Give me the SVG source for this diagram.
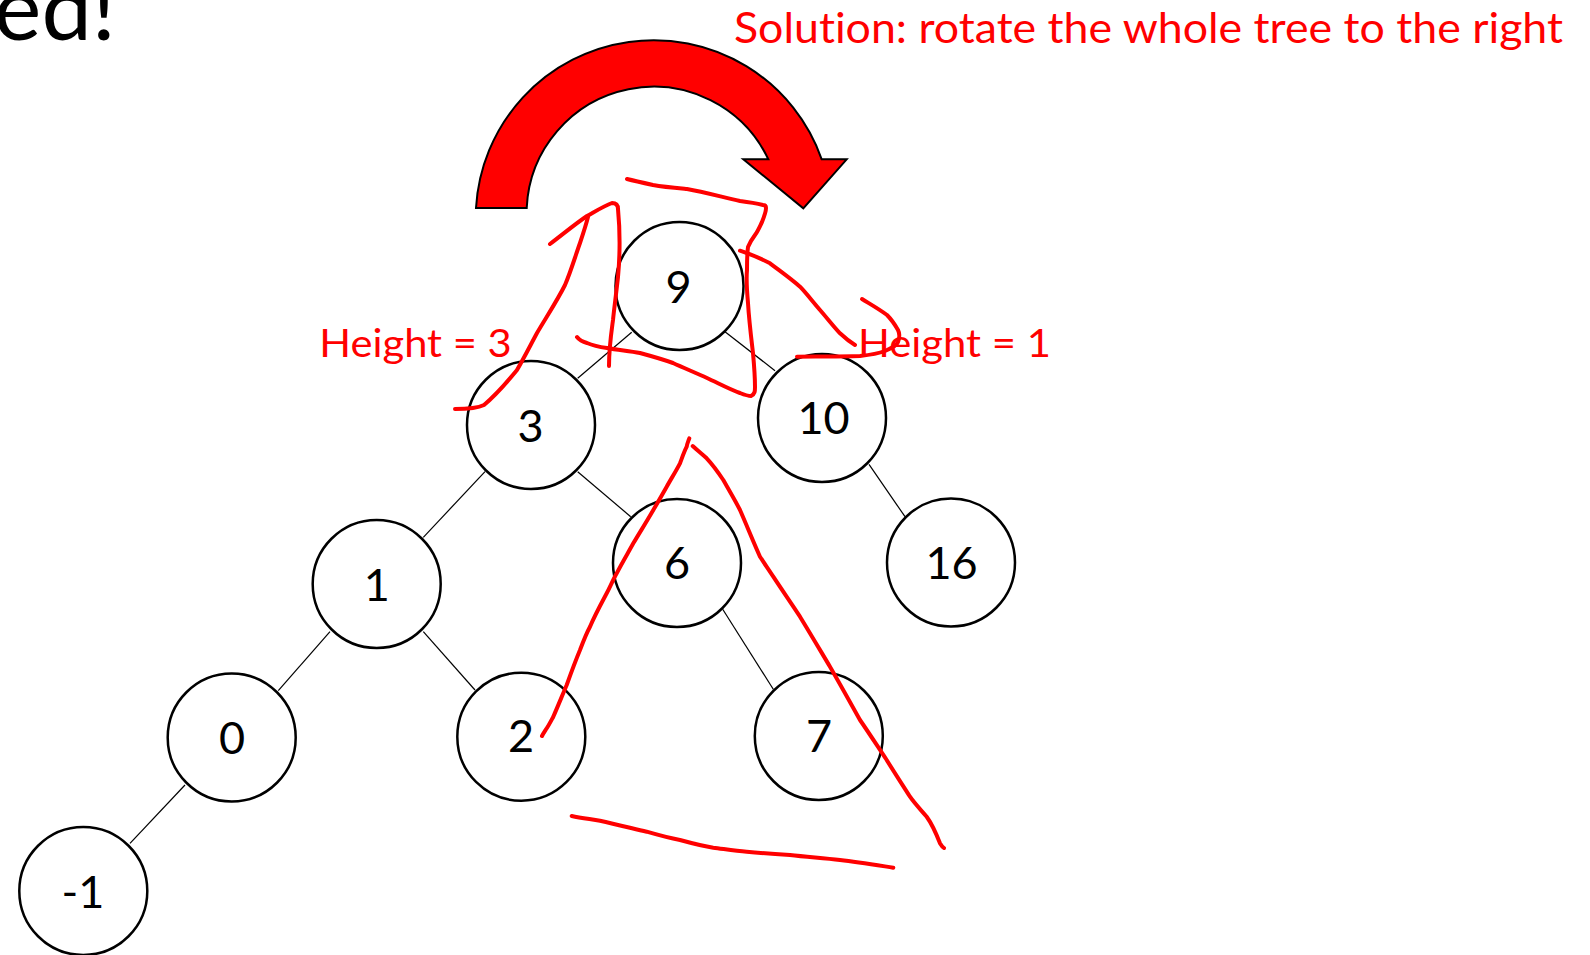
<svg xmlns="http://www.w3.org/2000/svg" width="1590" height="955" viewBox="0 0 1590 955">
<style>
  text { font-variant-ligatures: none; }
  .node circle { fill: #ffffff; stroke: #000000; stroke-width: 2.5; }
  .node text { font-family: Lato, "Open Sans", "Liberation Sans", sans-serif; font-size: 45px; fill: #000000; text-anchor: middle; }
  .edge { stroke: #000000; stroke-width: 1.2; fill: none; }
  .ink { stroke: #ff0000; stroke-width: 4; fill: none; stroke-linecap: round; stroke-linejoin: round; }
  .red { font-family: Lato, "Open Sans", "Liberation Sans", sans-serif; fill: #ff0000; }
</style>
<rect width="1590" height="955" fill="#ffffff"/>

<text x="116" y="40" text-anchor="end" font-family="Lato, 'Open Sans', sans-serif" font-size="90" fill="#000000">ed!</text>

<text class="red" x="734" y="43.3" font-size="42" textLength="829" lengthAdjust="spacingAndGlyphs">Solution: rotate the whole tree to the right</text>

<g id="rotate-arrow">
  <path d="M 476,208 A 178 178 0 0 1 821.7,159.3 L 846.7,159.3 L 803.3,208.3 L 743.3,159.3 L 768.3,159.3 A 127 127 0 0 0 526.7,208 Z" fill="#ff0000" stroke="#000000" stroke-width="2"/>
</g>

<g id="connectors">
  <line class="edge" x1="631.7" y1="332.3" x2="577.7" y2="378.3"/>
  <line class="edge" x1="725" y1="331.7" x2="775" y2="370.7"/>
  <line class="edge" x1="485" y1="471.7" x2="423.3" y2="537.3"/>
  <line class="edge" x1="577.7" y1="471.7" x2="630.7" y2="516.7"/>
  <line class="edge" x1="869" y1="464.3" x2="905" y2="516.7"/>
  <line class="edge" x1="330" y1="631.7" x2="278.3" y2="690.7"/>
  <line class="edge" x1="423.3" y1="631.7" x2="475" y2="690"/>
  <line class="edge" x1="722.7" y1="609.3" x2="773.3" y2="689.3"/>
  <line class="edge" x1="185" y1="785" x2="130" y2="843.3"/>
</g>

<g id="node-9" class="node"><circle cx="679.5" cy="286" r="64"/><text x="678.5" y="302.5">9</text></g>
<g id="node-3" class="node"><circle cx="531" cy="425" r="64"/><text x="530.5" y="441.5">3</text></g>
<g id="node-10" class="node"><circle cx="822" cy="418" r="64"/><text x="823.5" y="433.5">10</text></g>
<g id="node-1" class="node"><circle cx="376.7" cy="584" r="64"/><text x="376.7" y="601">1</text></g>
<g id="node-6" class="node"><circle cx="677" cy="563" r="64"/><text x="677" y="579">6</text></g>
<g id="node-16" class="node"><circle cx="951" cy="562.5" r="64"/><text x="951.5" y="578.5">16</text></g>
<g id="node-0" class="node"><circle cx="231.7" cy="737.5" r="64"/><text x="232" y="754">0</text></g>
<g id="node-2" class="node"><circle cx="521.3" cy="736.7" r="64"/><text x="521" y="752">2</text></g>
<g id="node-7" class="node"><circle cx="818.8" cy="736" r="64"/><text x="819" y="751.7">7</text></g>
<g id="node--1" class="node"><circle cx="83.3" cy="891" r="64"/><text x="83" y="908.3">-1</text></g>

<text class="red" x="319.3" y="356.7" font-size="39" textLength="192.4" lengthAdjust="spacingAndGlyphs">Height = 3</text>
<text class="red" x="858" y="357.3" font-size="39" textLength="193" lengthAdjust="spacingAndGlyphs">Height = 1</text>

<g id="annotations">
  <path class="ink" d="M 550,244 C 562,235 575,224 587,216 C 596,211 604,206 612,203 C 616,203 618,205 618,209 C 620,230 620,255 618,277 C 616,295 614,310 613,320 C 611,335 609,348 609,366"/>
  <path class="ink" d="M 455,409 C 468,409 478,408 484,405 C 497,394 508,381 517,370 C 524,358 530,346 537,333 C 547,316 557,301 565,285 C 571,271 575,257 580,243 C 583,234 586,225 588,217"/>
  <path class="ink" d="M 577,337 C 580,341 583,342 587,343 C 594,346 600,347 607,348 C 618,350 629,351 640,353 C 651,356 662,359 673,363 C 684,368 696,373 707,378 C 718,383 729,389 740,393 C 745,395 748,396 751,396 C 755,394 755,391 755,387 C 755,375 754,364 753,353 C 751,336 749,320 748,303 C 747,292 746,281 747,270 C 747,262 747,254 748,247 C 750,242 752,239 755,235 C 758,231 760,226 762,222 C 764,217 766,212 766,208 C 766,206 765,205 763,205 C 755,203 748,202 740,201 C 722,197 704,192 687,189 C 676,188 664,187 653,185 C 644,183 635,181 627,179"/>
  <path class="ink" d="M 740,250.7 C 750,254 760,258 770,263.3 C 780,271 790,278 800,286.7 C 807,294 813,302 820,310 C 827,318 833,326 840,333.3 C 845,338 850,342 855,345"/>
  <path class="ink" d="M 797,356.7 C 818,356.5 840,356.5 860,356 C 869,355 877,354 885,351 C 892,348 897,345 898,342 C 900,337 900,334 898,330 C 894,323 891,319 887,315 C 879,309 870,304 862,299"/>
  <path class="ink" d="M 689.3,438.3 C 688,442 687,444 686.7,446.7 C 684,452 682,458 680,463.3 C 676,471 671,479 666.7,486.7 C 662,495 658,502 653.3,510 C 647,521 640,532 633.3,543.3 C 628,553 622,563 616.7,573.3 C 613,580 610,587 606.7,593.3 C 601,604 595,615 590,626.7 C 586,634 583,642 580,650 C 575,662 571,673 566.7,685 C 562,696 558,706 553.3,716.7 C 551,721 549,725 546.7,728.3 C 545,731 543,734 542,736"/>
  <path class="ink" d="M 692.7,446 C 697,450 702,454 706.7,458.3 C 713,465 718,472 723.3,480 C 729,490 735,500 740,510 C 747,526 753,541 760,556.7 C 764,563 769,570 773.3,576.7 C 782,590 791,603 800,616.7 C 810,633 820,650 830,666.7 C 840,684 850,702 860,720 C 869,733 878,747 886.7,760 C 894,772 902,784 910,796.7 C 915,804 921,810 926.7,816.7 C 932,824 936,833 940,843.3 C 941,845 942,847 944,848"/>
  <path class="ink" d="M 571.7,816 C 581,818 590,819 600,820.7 C 615,824 631,828 646.7,831.7 C 658,835 669,838 680,840 C 691,843 702,846 713.3,847.7 C 724,849 735,851 746.7,851.7 C 761,853 775,854 790,855 C 807,857 823,858 840,860 C 858,862 876,865 893.3,867.7"/>
</g>
</svg>
